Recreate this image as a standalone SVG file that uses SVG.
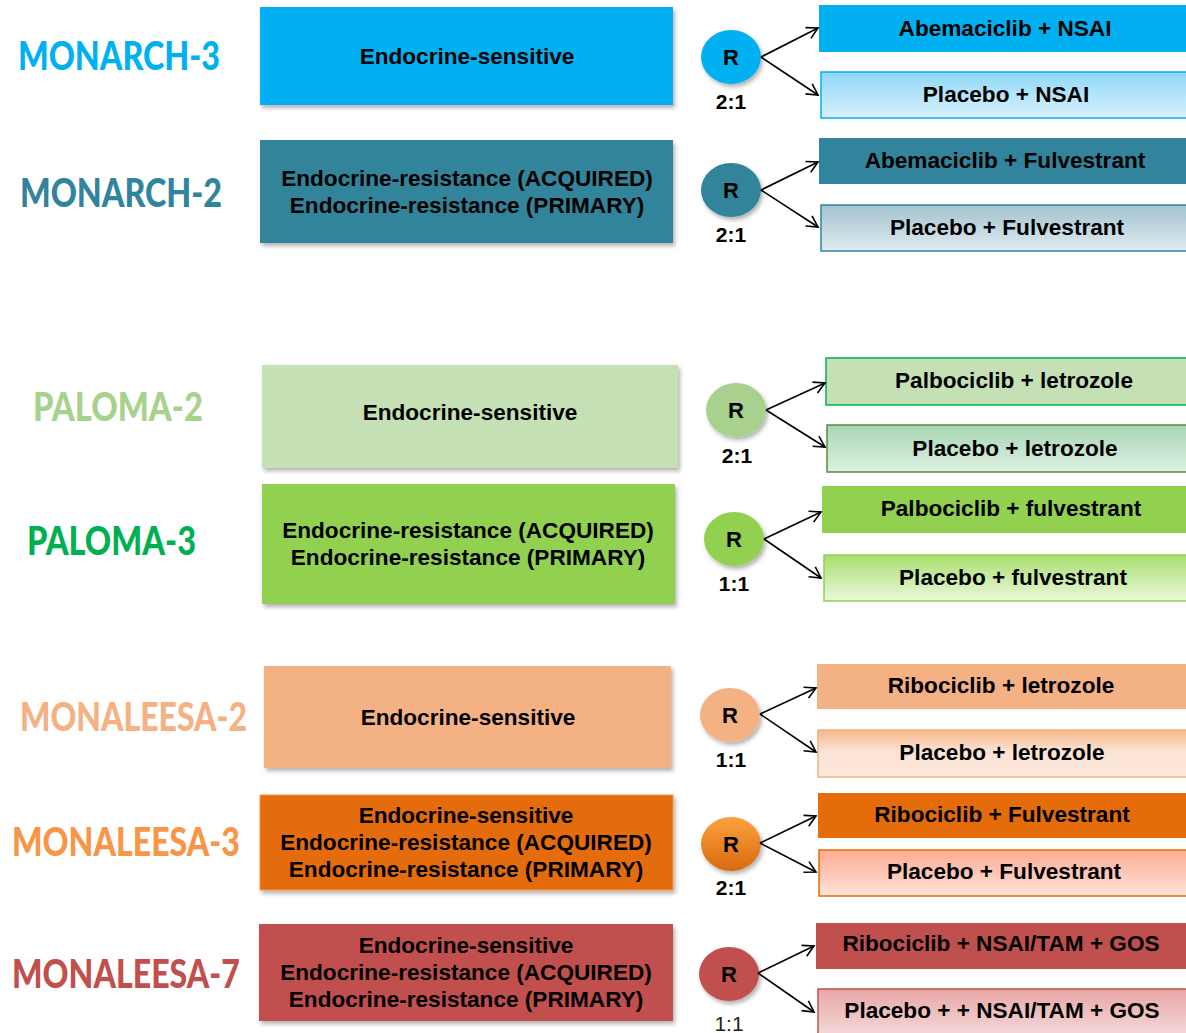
<svg xmlns="http://www.w3.org/2000/svg" width="1186" height="1033" viewBox="0 0 1186 1033">
<defs>
<filter id="sh" x="-10%" y="-10%" width="130%" height="140%"><feDropShadow dx="2" dy="3" stdDeviation="2" flood-color="#000" flood-opacity="0.3"/></filter>
<marker id="ah" markerWidth="14" markerHeight="14" refX="12" refY="7" orient="auto" markerUnits="userSpaceOnUse"><path d="M1,1 L12,7 L1,13" fill="none" stroke="#000" stroke-width="1.6"/></marker>
<linearGradient id="gM3" x1="0" y1="0" x2="0" y2="1"><stop offset="0" stop-color="#8fd8f8"/><stop offset="1" stop-color="#d8f1fc"/></linearGradient>
<linearGradient id="gM2" x1="0" y1="0" x2="0" y2="1"><stop offset="0" stop-color="#a2c3d0"/><stop offset="1" stop-color="#e0eaef"/></linearGradient>
<linearGradient id="gP2" x1="0" y1="0" x2="0" y2="1"><stop offset="0" stop-color="#a8d6b4"/><stop offset="1" stop-color="#ddf0e2"/></linearGradient>
<linearGradient id="gP3" x1="0" y1="0" x2="0" y2="1"><stop offset="0" stop-color="#a8de6e"/><stop offset="1" stop-color="#ebf8dc"/></linearGradient>
<linearGradient id="gL2" x1="0" y1="0" x2="0" y2="1"><stop offset="0" stop-color="#f5b688"/><stop offset="0.45" stop-color="#fbe3d4"/><stop offset="1" stop-color="#fce9dd"/></linearGradient>
<linearGradient id="gL3" x1="0" y1="0" x2="0" y2="1"><stop offset="0" stop-color="#fdab90"/><stop offset="1" stop-color="#fde3da"/></linearGradient>
<linearGradient id="gL7" x1="0" y1="0" x2="0" y2="1"><stop offset="0" stop-color="#e8a6a6"/><stop offset="1" stop-color="#f6dcdc"/></linearGradient>
<linearGradient id="gC3" x1="0" y1="0" x2="0" y2="1"><stop offset="0" stop-color="#fca23e"/><stop offset="1" stop-color="#d9690f"/></linearGradient>
</defs>
<style>
.title{font-family:Lato,"Liberation Sans",sans-serif;font-weight:900;font-size:39px}
.t{font-family:"Liberation Sans",Arial,sans-serif;font-weight:700;font-size:22.6px;fill:#000;text-anchor:middle;dominant-baseline:central}
.r{font-family:"Liberation Sans",Arial,sans-serif;font-weight:700;font-size:22px;fill:#000;text-anchor:middle;dominant-baseline:central}
.ratio{font-family:"Liberation Sans",Arial,sans-serif;font-weight:700;font-size:21px;fill:#000;text-anchor:middle}
.box{filter:url(#sh)}
.conn line{stroke:#000;stroke-width:1.6;marker-end:url(#ah)}
</style>
<rect width="1186" height="1033" fill="#fff"/>

<g id="monarch3">
<text class="title" x="18" y="70" fill="#00b0f0" textLength="202" lengthAdjust="spacingAndGlyphs">MONARCH-3</text>
<rect class="box" x="260" y="7" width="413" height="98" fill="#00b0f0"/>
<text class="t" x="467" y="56">Endocrine-sensitive</text>
<ellipse class="box" cx="731" cy="57" rx="30" ry="27" fill="#00b0f0"/>
<text class="r" x="731" y="57">R</text>
<text class="ratio" x="731" y="109">2:1</text>
<rect x="819" y="5" width="372" height="47" fill="#00b0f0"/>
<text class="t" x="1005" y="28">Abemaciclib + NSAI</text>
<rect x="821" y="72" width="370" height="46" fill="url(#gM3)" stroke="#00b0f0" stroke-width="1.5"/>
<text class="t" x="1006" y="94">Placebo + NSAI</text>
</g>

<g id="monarch2">
<text class="title" x="20" y="207" fill="#31849b" textLength="202" lengthAdjust="spacingAndGlyphs">MONARCH-2</text>
<rect class="box" x="260" y="140" width="413" height="103" fill="#31849b"/>
<text class="t" x="467" y="178">Endocrine-resistance (ACQUIRED)</text>
<text class="t" x="467" y="205">Endocrine-resistance (PRIMARY)</text>
<ellipse class="box" cx="731" cy="190" rx="30" ry="27" fill="#31849b"/>
<text class="r" x="731" y="190">R</text>
<text class="ratio" x="731" y="242">2:1</text>
<rect x="819" y="138" width="372" height="46" fill="#31849b"/>
<text class="t" x="1005" y="160">Abemaciclib + Fulvestrant</text>
<rect x="821" y="205" width="370" height="46" fill="url(#gM2)" stroke="#31849b" stroke-width="1.5"/>
<text class="t" x="1007" y="227">Placebo + Fulvestrant</text>
</g>

<g id="paloma2">
<text class="title" x="33" y="421" fill="#a9d18e" textLength="170" lengthAdjust="spacingAndGlyphs">PALOMA-2</text>
<rect class="box" x="262" y="365" width="416" height="103" fill="#c5e0b4"/>
<text class="t" x="470" y="412">Endocrine-sensitive</text>
<ellipse class="box" cx="736" cy="410" rx="30" ry="27" fill="#a9d18e"/>
<text class="r" x="736" y="410">R</text>
<text class="ratio" x="737" y="463">2:1</text>
<rect x="826" y="358" width="365" height="47" fill="#c5e0b4" stroke="#00b050" stroke-width="1.5"/>
<text class="t" x="1014" y="380">Palbociclib + letrozole</text>
<rect x="827" y="425" width="364" height="47" fill="url(#gP2)" stroke="#5a8a3c" stroke-width="1.5"/>
<text class="t" x="1015" y="448">Placebo + letrozole</text>
</g>

<g id="paloma3">
<text class="title" x="27" y="555" fill="#00b050" textLength="169" lengthAdjust="spacingAndGlyphs">PALOMA-3</text>
<rect class="box" x="262" y="484" width="413" height="120" fill="#92d050"/>
<text class="t" x="468" y="530">Endocrine-resistance (ACQUIRED)</text>
<text class="t" x="468" y="557">Endocrine-resistance (PRIMARY)</text>
<ellipse class="box" cx="734" cy="539" rx="30" ry="27" fill="#92d050"/>
<text class="r" x="734" y="539">R</text>
<text class="ratio" x="734" y="591">1:1</text>
<rect x="822" y="486" width="369" height="47" fill="#92d050"/>
<text class="t" x="1011" y="508">Palbociclib + fulvestrant</text>
<rect x="824" y="555" width="367" height="46" fill="url(#gP3)" stroke="#92d050" stroke-width="1.5"/>
<text class="t" x="1013" y="577">Placebo + fulvestrant</text>
</g>

<g id="monaleesa2">
<text class="title" x="20" y="731" fill="#f4b183" textLength="227" lengthAdjust="spacingAndGlyphs">MONALEESA-2</text>
<rect class="box" x="264" y="666" width="407" height="102" fill="#f4b183"/>
<text class="t" x="468" y="717">Endocrine-sensitive</text>
<ellipse class="box" cx="730" cy="715" rx="30" ry="27" fill="#f4b183"/>
<text class="r" x="730" y="715">R</text>
<text class="ratio" x="731" y="767">1:1</text>
<rect x="817" y="664" width="374" height="45" fill="#f4b183"/>
<text class="t" x="1001" y="685">Ribociclib + letrozole</text>
<rect x="818" y="730" width="373" height="47" fill="url(#gL2)" stroke="#f4b183" stroke-width="1.5"/>
<text class="t" x="1002" y="752">Placebo + letrozole</text>
</g>

<g id="monaleesa3">
<text class="title" x="12" y="856" fill="#f79646" textLength="228" lengthAdjust="spacingAndGlyphs">MONALEESA-3</text>
<rect class="box" x="260" y="795" width="413" height="95" fill="#e46c0a" stroke="#f79646" stroke-width="1"/>
<text class="t" x="466" y="815">Endocrine-sensitive</text>
<text class="t" x="466" y="842">Endocrine-resistance (ACQUIRED)</text>
<text class="t" x="466" y="869">Endocrine-resistance (PRIMARY)</text>
<ellipse class="box" cx="731" cy="844" rx="30" ry="27" fill="url(#gC3)"/>
<text class="r" x="731" y="844">R</text>
<text class="ratio" x="731" y="895">2:1</text>
<rect x="818" y="793" width="373" height="45" fill="#e46c0a"/>
<text class="t" x="1002" y="814">Ribociclib + Fulvestrant</text>
<rect x="819" y="850" width="372" height="46" fill="url(#gL3)" stroke="#e46c0a" stroke-width="1.5"/>
<text class="t" x="1004" y="871">Placebo + Fulvestrant</text>
</g>

<g id="monaleesa7">
<text class="title" x="12" y="988" fill="#c0504d" textLength="228" lengthAdjust="spacingAndGlyphs">MONALEESA-7</text>
<rect class="box" x="259" y="924" width="414" height="97" fill="#c0504d"/>
<text class="t" x="466" y="945">Endocrine-sensitive</text>
<text class="t" x="466" y="972">Endocrine-resistance (ACQUIRED)</text>
<text class="t" x="466" y="999">Endocrine-resistance (PRIMARY)</text>
<ellipse class="box" cx="729" cy="974" rx="30" ry="27" fill="#c0504d"/>
<text class="r" x="729" y="974">R</text>
<text x="729" y="1031" font-family="Liberation Sans, Arial, sans-serif" font-size="21" fill="#222" text-anchor="middle">1:1</text>
<rect x="816" y="923" width="375" height="46" fill="#c0504d"/>
<text class="t" x="1001" y="943">Ribociclib + NSAI/TAM + GOS</text>
<rect x="818" y="989" width="373" height="50" fill="url(#gL7)" stroke="#c0504d" stroke-width="1.5"/>
<text class="t" x="1002" y="1010">Placebo + + NSAI/TAM + GOS</text>
</g>

<g id="connectors" class="conn">
<line x1="761" y1="57" x2="818" y2="28"/>
<line x1="761" y1="57" x2="818" y2="95"/>
<line x1="761" y1="190" x2="818" y2="162"/>
<line x1="761" y1="190" x2="818" y2="227"/>
<line x1="766" y1="410" x2="825" y2="383"/>
<line x1="766" y1="410" x2="825" y2="447"/>
<line x1="764" y1="539" x2="821" y2="512"/>
<line x1="764" y1="539" x2="821" y2="578"/>
<line x1="760" y1="714" x2="816" y2="688"/>
<line x1="760" y1="714" x2="816" y2="752"/>
<line x1="760" y1="843" x2="816" y2="816"/>
<line x1="760" y1="843" x2="816" y2="872"/>
<line x1="758" y1="973" x2="814" y2="946"/>
<line x1="758" y1="973" x2="814" y2="1012"/>
</g>
</svg>
